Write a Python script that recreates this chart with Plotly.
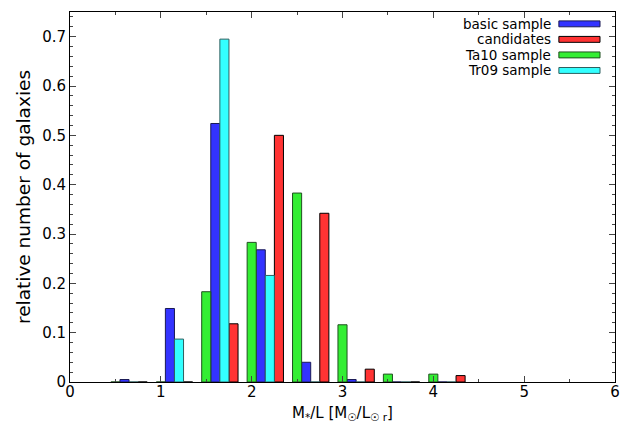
import plotly.graph_objects as go

bins = [0.5, 1.0, 1.5, 2.0, 2.5, 3.0, 3.5, 4.0]

series_names = ["basic sample", "candidates", "Ta10 sample", "Tr09 sample"]
basic = [0.005, 0.149, 0.524, 0.268, 0.040, 0.005, 0.0, 0.0]
candidates = [0.0, 0.0, 0.118, 0.500, 0.342, 0.026, 0.0, 0.013]
ta10 = [0.0, 0.0, 0.183, 0.283, 0.383, 0.116, 0.016, 0.016]
tr09 = [0.0, 0.087, 0.695, 0.216, 0.0, 0.0, 0.0, 0.0]

xticks = [0, 1, 2, 3, 4, 5, 6]
yticks = [0, 0.1, 0.2, 0.3, 0.4, 0.5, 0.6, 0.7]

FONT = "DejaVu Sans"

# name, values, fill, outline, slot in group
specs = [
    (series_names[0], basic, "#3333ff", "#1a1a55", 1),
    (series_names[1], candidates, "#ff3333", "#000000", 3),
    (series_names[2], ta10, "#33ee33", "#1f4f1f", 0),
    (series_names[3], tr09, "#33ffff", "#2f6060", 2),
]

W = 0.1
fig = go.Figure()
for name, vals, fill, edge, slot in specs:
    fig.add_trace(go.Bar(
        x=bins, y=vals, name=name,
        width=W, offset=-0.05 + slot * W,
        marker=dict(color=fill, line=dict(color=edge, width=1)),
        showlegend=False,
    ))

# manual legend (text right-aligned, swatch on the right, like gnuplot)
row_y = [0.968, 0.926, 0.884, 0.842]
for (name, vals, fill, edge, slot), yy in zip(specs, row_y):
    fig.add_annotation(x=0.884, y=yy, xref="paper", yref="paper",
                       text=name, showarrow=False, xanchor="right", yanchor="middle",
                       font=dict(family=FONT, size=13.5, color="black"),
                       borderpad=0)
    fig.add_shape(type="rect", xref="paper", yref="paper",
                  x0=0.897, x1=0.9725, y0=yy - 0.008, y1=yy + 0.008,
                  fillcolor=fill, line=dict(color=edge, width=1))

# x-axis title as annotation for exact placement
fig.add_annotation(x=0.5, y=-0.057, xref="paper", yref="paper",
                   text="M<sub>*</sub>/L [M<sub>☉</sub>/L<sub>☉ r</sub>]",
                   showarrow=False, xanchor="center", yanchor="top",
                   font=dict(family=FONT, size=15, color="black"), borderpad=0)

# page body has an 8px margin: shrink the figure and margins to compensate
fig.update_layout(
    width=626, height=415,
    margin=dict(l=62, r=19, t=4, b=41),
    plot_bgcolor="white", paper_bgcolor="white",
    barmode="overlay",
    font=dict(family=FONT, size=15, color="black"),
    showlegend=False,
)
fig.update_xaxes(
    range=[0, 6], tickvals=xticks, ticktext=[str(v) for v in xticks],
    showgrid=False, zeroline=False, automargin=False,
    showline=True, linecolor="black", linewidth=1, mirror="ticks",
    ticks="inside", ticklen=6, tickcolor="#444444",
    minor=dict(dtick=0.5, ticks="inside", ticklen=3, tickcolor="#444444", showgrid=False),
    tickfont=dict(family=FONT, size=15), ticklabelstandoff=-4,
)
fig.update_yaxes(
    range=[0, 0.75], tickvals=yticks, ticktext=[f"{v:g}" for v in yticks],
    showgrid=False, zeroline=False, automargin=False,
    showline=True, linecolor="black", linewidth=1, mirror="ticks",
    ticks="inside", ticklen=6, tickcolor="#444444",
    minor=dict(dtick=0.02, ticks="inside", ticklen=3, tickcolor="#444444", showgrid=False),
    tickfont=dict(family=FONT, size=15),
    title=dict(text="relative number of galaxies", font=dict(family=FONT, size=18.5), standoff=6),
)

fig.write_html("out.html")
